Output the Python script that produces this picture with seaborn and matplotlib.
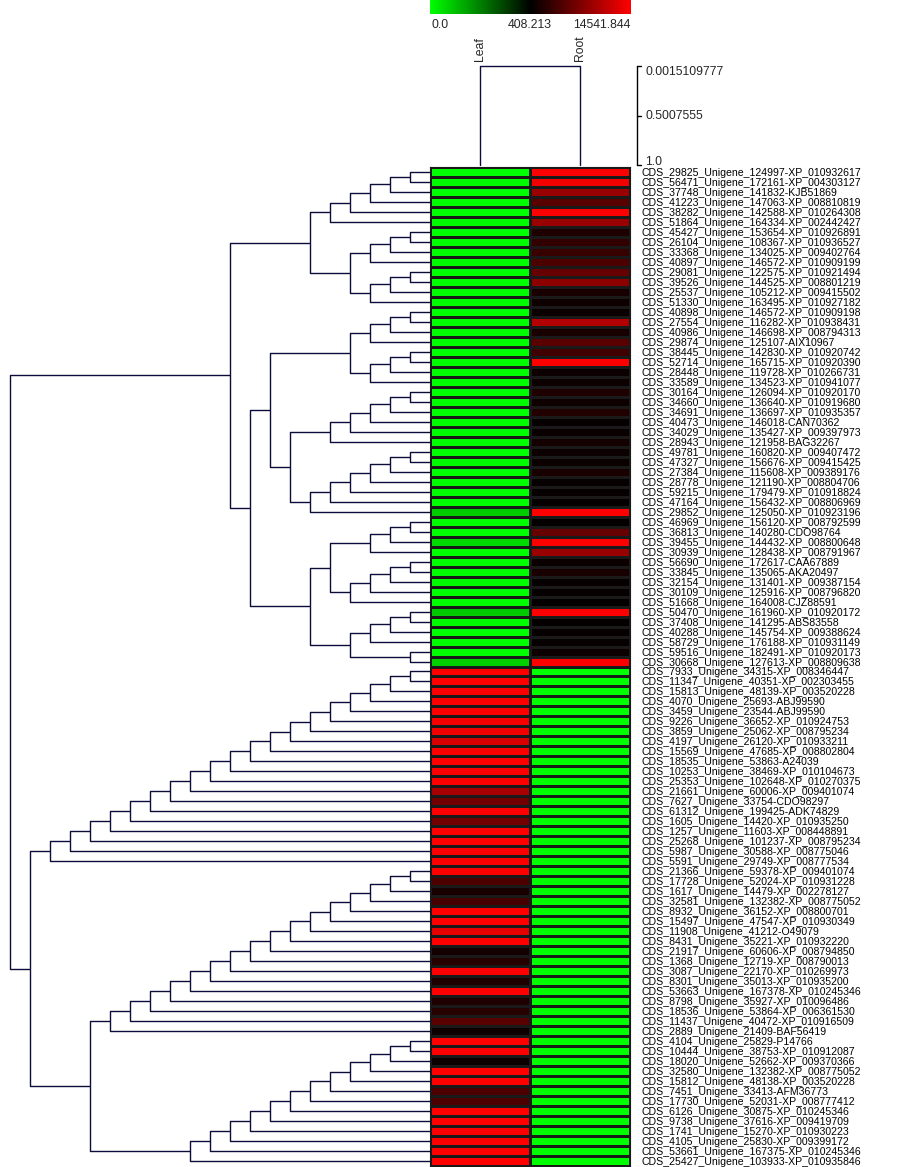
import numpy as np
import pandas as pd
import matplotlib
matplotlib.use("Agg")
import matplotlib.pyplot as plt
import matplotlib.transforms as mtrans
import seaborn as sns
from matplotlib.colors import LinearSegmentedColormap, TwoSlopeNorm

# ---------------- data ----------------
genes = [
    "CDS_29825_Unigene_124997-XP_010932617", "CDS_56471_Unigene_172161-XP_004303127",
    "CDS_37748_Unigene_141832-KJB51869", "CDS_41223_Unigene_147063-XP_008810819",
    "CDS_38282_Unigene_142588-XP_010264308", "CDS_51864_Unigene_164334-XP_002442427",
    "CDS_45427_Unigene_153654-XP_010926891", "CDS_26104_Unigene_108367-XP_010936527",
    "CDS_33368_Unigene_134025-XP_009402764", "CDS_40897_Unigene_146572-XP_010909199",
    "CDS_29081_Unigene_122575-XP_010921494", "CDS_39526_Unigene_144525-XP_008801219",
    "CDS_25537_Unigene_105212-XP_009415502", "CDS_51330_Unigene_163495-XP_010927182",
    "CDS_40898_Unigene_146572-XP_010909198", "CDS_27554_Unigene_116282-XP_010938431",
    "CDS_40986_Unigene_146698-XP_008794313", "CDS_29874_Unigene_125107-AIX10967",
    "CDS_38445_Unigene_142830-XP_010920742", "CDS_52714_Unigene_165715-XP_010920390",
    "CDS_28448_Unigene_119728-XP_010266731", "CDS_33589_Unigene_134523-XP_010941077",
    "CDS_30164_Unigene_126094-XP_010920170", "CDS_34660_Unigene_136640-XP_010919680",
    "CDS_34691_Unigene_136697-XP_010935357", "CDS_40473_Unigene_146018-CAN70362",
    "CDS_34029_Unigene_135427-XP_009397973", "CDS_28943_Unigene_121958-BAG32267",
    "CDS_49781_Unigene_160820-XP_009407472", "CDS_47327_Unigene_156676-XP_009415425",
    "CDS_27384_Unigene_115608-XP_009389176", "CDS_28778_Unigene_121190-XP_008804706",
    "CDS_59215_Unigene_179479-XP_010918824", "CDS_47164_Unigene_156432-XP_008806969",
    "CDS_29852_Unigene_125050-XP_010923196", "CDS_46969_Unigene_156120-XP_008792599",
    "CDS_36813_Unigene_140280-CDO98764", "CDS_39455_Unigene_144432-XP_008800648",
    "CDS_30939_Unigene_128438-XP_008791967", "CDS_56690_Unigene_172617-CAA67889",
    "CDS_33845_Unigene_135065-AKA20497", "CDS_32154_Unigene_131401-XP_009387154",
    "CDS_30109_Unigene_125916-XP_008796820", "CDS_51668_Unigene_164008-CJZ88591",
    "CDS_50470_Unigene_161960-XP_010920172", "CDS_37408_Unigene_141295-ABS83558",
    "CDS_40288_Unigene_145754-XP_009388624", "CDS_58729_Unigene_176188-XP_010931149",
    "CDS_59516_Unigene_182491-XP_010920173", "CDS_30668_Unigene_127613-XP_008809638",
    "CDS_7933_Unigene_34315-XP_008346447", "CDS_11347_Unigene_40351-XP_002303455",
    "CDS_15813_Unigene_48139-XP_003520228", "CDS_4070_Unigene_25693-ABJ99590",
    "CDS_3459_Unigene_23544-ABJ99590", "CDS_9226_Unigene_36652-XP_010924753",
    "CDS_3859_Unigene_25062-XP_008795234", "CDS_4197_Unigene_26120-XP_010933211",
    "CDS_15569_Unigene_47685-XP_008802804", "CDS_18535_Unigene_53863-A24039",
    "CDS_10253_Unigene_38469-XP_010104673", "CDS_25353_Unigene_102648-XP_010270375",
    "CDS_21661_Unigene_60006-XP_009401074", "CDS_7627_Unigene_33754-CDO98297",
    "CDS_61312_Unigene_199425-ADK74829", "CDS_1605_Unigene_14420-XP_010935250",
    "CDS_1257_Unigene_11603-XP_008448891", "CDS_25268_Unigene_101237-XP_008795234",
    "CDS_5987_Unigene_30588-XP_008775046", "CDS_5591_Unigene_29749-XP_008777534",
    "CDS_21366_Unigene_59378-XP_009401074", "CDS_17728_Unigene_52024-XP_010931228",
    "CDS_1617_Unigene_14479-XP_002278127", "CDS_32581_Unigene_132382-XP_008775052",
    "CDS_8932_Unigene_36152-XP_008800701", "CDS_15497_Unigene_47547-XP_010930349",
    "CDS_11908_Unigene_41212-O49079", "CDS_8431_Unigene_35221-XP_010932220",
    "CDS_21917_Unigene_60606-XP_008794850", "CDS_1368_Unigene_12719-XP_008790013",
    "CDS_3087_Unigene_22170-XP_010269973", "CDS_8301_Unigene_35013-XP_010935200",
    "CDS_53663_Unigene_167378-XP_010245346", "CDS_8798_Unigene_35927-XP_010096486",
    "CDS_18536_Unigene_53864-XP_006361530", "CDS_11437_Unigene_40472-XP_010916509",
    "CDS_2889_Unigene_21409-BAF56419", "CDS_4104_Unigene_25829-P14766",
    "CDS_10444_Unigene_38753-XP_010912087", "CDS_18020_Unigene_52662-XP_009370366",
    "CDS_32580_Unigene_132382-XP_008775052", "CDS_15812_Unigene_48138-XP_003520228",
    "CDS_7451_Unigene_33413-AFM36773", "CDS_17730_Unigene_52031-XP_008777412",
    "CDS_6126_Unigene_30875-XP_010245346", "CDS_9738_Unigene_37616-XP_009419709",
    "CDS_1741_Unigene_15270-XP_010930223", "CDS_4105_Unigene_25830-XP_009399172",
    "CDS_53661_Unigene_167375-XP_010245346", "CDS_25427_Unigene_103933-XP_010935846",
]

samples = ["Leaf", "Root"]

leaf_vals = [
    3, 4, 2, 5, 3, 4, 2, 3, 5, 4,
    3, 2, 4, 3, 5, 3, 4, 2, 3, 4,
    5, 3, 2, 4, 3, 5, 4, 3, 2, 4,
    3, 5, 4, 3, 80, 4, 3, 60, 4, 3,
    5, 4, 3, 2, 85, 4, 3, 5, 4, 75,
    14541, 14541, 14541, 14541, 14541, 14200, 13835, 12422, 14541, 14541,
    14541, 14541, 9595, 6768, 14541, 6768, 14541, 14541, 14541, 14541,
    14541, 4648, 1822, 4366, 14541, 14541, 13128, 14541, 1539, 2528,
    14541, 2104, 14541, 2104, 2528, 5355, 1256, 14541, 14541, 1115,
    14541, 14541, 4648, 4648, 14541, 14541, 14541, 14541, 14541, 14541,
]

root_vals = [
    14541, 13835, 8888, 5355, 14541, 8888, 2104, 3235, 3518, 4648,
    6062, 8182, 1822, 1256, 974, 10302, 1822, 5355, 3942, 14541,
    1115, 1115, 2104, 1256, 2387, 832, 974, 1539, 1115, 974,
    1822, 832, 832, 832, 14541, 691, 6062, 14541, 8888, 974,
    1822, 832, 832, 691, 14541, 691, 832, 832, 1115, 14541,
    3, 4, 2, 5, 3, 4, 2, 3, 5, 4,
    3, 2, 4, 3, 5, 3, 4, 2, 3, 4,
    5, 3, 2, 4, 3, 5, 4, 3, 2, 4,
    3, 5, 4, 3, 4, 3, 5, 4, 3, 2,
    4, 3, 5, 4, 3, 2, 4, 3, 5, 4,
]

scale_min, scale_mid, scale_max = 0.0, 408.213, 14541.844
col_join_height = 0.0015109777
ruler_ticks = [0.0015109777, 0.5007555, 1.0]
ruler_labels = ["0.0015109777", "0.5007555", "1.0"]

# row dendrogram (leaf numbers 1..100 in display order)
# chains: first two leaves join at level 1, each next leaf one level higher
row_chains = [
    ("A", [1, 2, 3, 4, 5, 6]),
    ("B", [7, 8, 9, 10]),
    ("C", [11, 12, 13, 14]),
    ("D", [15, 16, 17, 18]),
    ("E", [19, 20, 21, 22]),
    ("F", [23, 24, 25, 26, 27, 28]),
    ("G", [29, 30, 31, 32, 33, 34, 35]),
    ("H", [36, 37, 38, 39]),
    ("I", [40, 41, 42, 43, 44]),
    ("J", [45, 46, 47, 48]),
    ("K", [49, 50]),
    ("L", list(range(51, 71))),
    ("M", list(range(71, 88))),
    ("N", list(range(88, 101))),
]
row_joins = [
    ("BC", "B", "C", 4),
    ("T1", "A", "BC", 6),
    ("DE", "D", "E", 4),
    ("FG", "F", "G", 7),
    ("T2a", "DE", "FG", 8),
    ("HI", "H", "I", 5),
    ("JK", "J", "K", 4),
    ("T2b", "HI", "JK", 6),
    ("T2", "T2a", "T2b", 9),
    ("TOP", "T1", "T2", 10),
    ("MN", "M", "N", 17),
    ("BOT", "L", "MN", 20),
    ("ROOT", "TOP", "BOT", 21),
]

# ---------------- style ----------------
sns.set_style("white")
plt.rcParams["font.family"] = ["Liberation Sans", "DejaVu Sans"]

W, H = 897, 1167
fig = plt.figure(figsize=(W / 100, H / 100), dpi=100)


def box(x0, y0, x1, y1):
    return [x0 / W, 1 - y1 / H, (x1 - x0) / W, (y1 - y0) / H]


ax_hm = fig.add_axes(box(430, 167, 630, 1166))
ax_rd = fig.add_axes(box(0, 167, 430, 1166))
ax_cd = fig.add_axes(box(430, 66, 630, 165))
ax_cb = fig.add_axes(box(430, 0, 630, 14))

cmap = LinearSegmentedColormap.from_list("gkr", ["#00ff00", "#000000", "#ff0000"])
norm = TwoSlopeNorm(vmin=scale_min, vcenter=scale_mid, vmax=scale_max)

# ---------------- heatmap ----------------
df = pd.DataFrame({samples[0]: leaf_vals, samples[1]: root_vals}, index=genes)
sns.heatmap(df, ax=ax_hm, cmap=cmap, norm=norm, cbar=False,
            linewidths=0.8, linecolor="#1a1a1a",
            xticklabels=False, yticklabels=genes)
ax_hm.yaxis.tick_right()
ax_hm.tick_params(axis="y", length=0, pad=8, labelsize=7.6, labelrotation=0,
                  labelcolor="black")
ax_hm.set_xlabel("")
ax_hm.set_ylabel("")
for sp in ax_hm.spines.values():
    sp.set_visible(True)
    sp.set_color("#1a1a1a")
    sp.set_linewidth(0.8)

# ---------------- row dendrogram ----------------
dcol = "#0c0c3c"
nodes = {i: (i - 0.5, 0) for i in range(1, len(genes) + 1)}


def join(name, a, b, level):
    ya, la = nodes[a]
    yb, lb = nodes[b]
    ax_rd.plot([la, level, level, lb], [ya, ya, yb, yb], color=dcol, lw=1.0,
               solid_capstyle="butt", clip_on=False)
    nodes[name] = ((ya + yb) / 2, level)


for name, leaves in row_chains:
    cur = leaves[0]
    for k, lf in enumerate(leaves[1:], start=1):
        nm = name if k == len(leaves) - 1 else f"{name}{k}"
        join(nm, cur, lf, k)
        cur = nm
for name, a, b, lev in row_joins:
    join(name, a, b, lev)

ax_rd.set_xlim(21.5, 0)
ax_rd.set_ylim(len(genes), 0)
ax_rd.axis("off")

# ---------------- column dendrogram + ruler ----------------
ax_cd.plot([0.5, 0.5, 1.5, 1.5], [1.0, col_join_height, col_join_height, 1.0],
           color=dcol, lw=1.0, clip_on=False)
ax_cd.set_xlim(0, 2)
ax_cd.set_ylim(1.0, col_join_height)
ax_cd.axis("off")

rx = 2.065
ax_cd.plot([rx, rx], [ruler_ticks[0], ruler_ticks[-1]], color="black", lw=1.0,
           clip_on=False)
vas = ["top", "center", "baseline"]
for t, lab, va in zip(ruler_ticks, ruler_labels, vas):
    ax_cd.plot([rx, rx + 0.045], [t, t], color="black", lw=1.0, clip_on=False)
    ax_cd.text(rx + 0.09, t, lab, ha="left", va=va, fontsize=8.8, clip_on=False)

tr = mtrans.blended_transform_factory(ax_cd.transData, ax_cd.transAxes)
for i, s in enumerate(samples):
    ax_cd.text(i + 0.5, 1 + 5 / 99, s, transform=tr, rotation=90,
               ha="center", va="bottom", fontsize=8.8)

# ---------------- color scale ----------------
ax_cb.imshow(np.linspace(0, 1, 256)[None, :], cmap=cmap, aspect="auto",
             extent=[0, 1, 0, 1])
ax_cb.axis("off")
ax_cb.text(0.005, -11 / 14, str(scale_min), transform=ax_cb.transAxes,
           ha="left", va="center", fontsize=8.8)
ax_cb.text(0.5, -11 / 14, str(scale_mid), transform=ax_cb.transAxes,
           ha="center", va="center", fontsize=8.8)
ax_cb.text(1.0, -11 / 14, str(scale_max), transform=ax_cb.transAxes,
           ha="right", va="center", fontsize=8.8)

fig.savefig("out.png", dpi=100)
